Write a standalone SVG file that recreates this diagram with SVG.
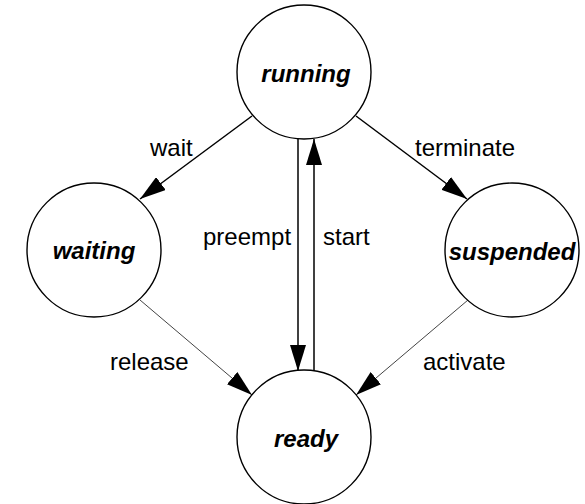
<svg xmlns="http://www.w3.org/2000/svg" width="585" height="504" viewBox="0 0 585 504">
<style>
.node{fill:#fff;stroke:#000;stroke-width:1.4}
.nl{font-family:"Liberation Sans",Arial,sans-serif;font-weight:bold;font-style:italic;font-size:24px;text-anchor:middle}
.el{font-family:"Liberation Sans",Arial,sans-serif;font-size:24px}
.e{stroke:#000;stroke-width:1.5;fill:none}
.t{stroke:#444;stroke-width:1;fill:none}
</style>
<defs>
<marker id="ah" markerUnits="userSpaceOnUse" markerWidth="26" markerHeight="16" refX="26" refY="8" orient="auto">
<path d="M0,0 L26,8 L0,16 Z" fill="#000"/>
</marker>
</defs>
<rect width="585" height="504" fill="#fff"/>
<g id="connectors">
<line class="e" x1="252" y1="116" x2="140" y2="199" marker-end="url(#ah)"/>
<line class="e" x1="356" y1="116" x2="467" y2="199" marker-end="url(#ah)"/>
<line class="e" x1="298" y1="139" x2="298" y2="371" marker-end="url(#ah)"/>
<line class="e" x1="314" y1="371" x2="314" y2="139" marker-end="url(#ah)"/>
<line class="t" x1="140" y1="300" x2="252" y2="395" marker-end="url(#ah)"/>
<line class="t" x1="468" y1="300" x2="356" y2="395" marker-end="url(#ah)"/>
</g>
<g id="running"><circle class="node" cx="304" cy="72" r="67"/><text class="nl" x="306" y="82">running</text></g>
<g id="waiting"><circle class="node" cx="94" cy="250" r="67"/><text class="nl" x="94" y="259">waiting</text></g>
<g id="suspended"><circle class="node" cx="512" cy="250" r="67"/><text class="nl" x="512" y="260">suspended</text></g>
<g id="ready"><circle class="node" cx="304" cy="437" r="67"/><text class="nl" x="306" y="447">ready</text></g>
<g id="labels">
<text class="el" x="150" y="156">wait</text>
<text class="el" x="415" y="156">terminate</text>
<text class="el" x="203" y="245">preempt</text>
<text class="el" x="323" y="245">start</text>
<text class="el" x="110" y="370">release</text>
<text class="el" x="423" y="370">activate</text>
</g>
</svg>
